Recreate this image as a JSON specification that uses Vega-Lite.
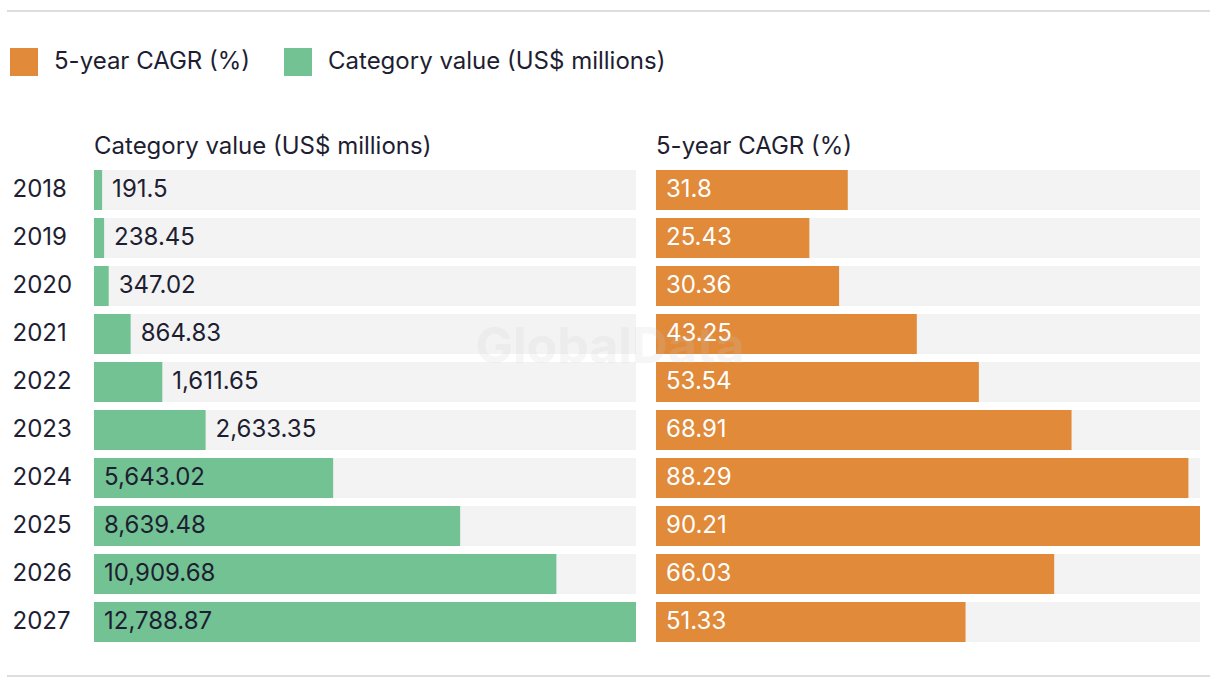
{
  "$schema": "https://vega.github.io/schema/vega-lite/v6.json",
  "padding": {"left": 6, "top": 10, "right": 5, "bottom": 5},
  "background": "white",
  "config": {
    "font": "Inter",
    "view": {"stroke": null},
    "legend": {
      "symbolType": "square",
      "symbolSize": 784,
      "symbolStrokeWidth": 0,
      "symbolOpacity": 1,
      "labelFontSize": 24,
      "labelColor": "#1e1e32",
      "labelOffset": 16,
      "columnPadding": 33,
      "padding": 0,
      "labelLimit": 500
    },
    "title": {"fontSize": 24, "fontWeight": "normal", "color": "#1e1e32", "anchor": "start", "frame": "group", "baseline": "alphabetic", "offset": 11}
  },
  "datasets": {
    "d": [
      {"year": "2018", "measure": "Category value (US$ millions)", "value": 191.5},
      {"year": "2019", "measure": "Category value (US$ millions)", "value": 238.45},
      {"year": "2020", "measure": "Category value (US$ millions)", "value": 347.02},
      {"year": "2021", "measure": "Category value (US$ millions)", "value": 864.83},
      {"year": "2022", "measure": "Category value (US$ millions)", "value": 1611.65},
      {"year": "2023", "measure": "Category value (US$ millions)", "value": 2633.35},
      {"year": "2024", "measure": "Category value (US$ millions)", "value": 5643.02},
      {"year": "2025", "measure": "Category value (US$ millions)", "value": 8639.48},
      {"year": "2026", "measure": "Category value (US$ millions)", "value": 10909.68},
      {"year": "2027", "measure": "Category value (US$ millions)", "value": 12788.87},
      {"year": "2018", "measure": "5-year CAGR (%)", "value": 31.8},
      {"year": "2019", "measure": "5-year CAGR (%)", "value": 25.43},
      {"year": "2020", "measure": "5-year CAGR (%)", "value": 30.36},
      {"year": "2021", "measure": "5-year CAGR (%)", "value": 43.25},
      {"year": "2022", "measure": "5-year CAGR (%)", "value": 53.54},
      {"year": "2023", "measure": "5-year CAGR (%)", "value": 68.91},
      {"year": "2024", "measure": "5-year CAGR (%)", "value": 88.29},
      {"year": "2025", "measure": "5-year CAGR (%)", "value": 90.21},
      {"year": "2026", "measure": "5-year CAGR (%)", "value": 66.03},
      {"year": "2027", "measure": "5-year CAGR (%)", "value": 51.33}
    ]
  },
  "vconcat": [
    {
      "data": {"values": [{}]},
      "width": 1116,
      "height": 91,
      "mark": {"type": "rule", "color": "#dddddd", "strokeWidth": 2},
      "encoding": {
        "x": {"datum": -87, "type": "quantitative", "scale": {"domain": [0, 1116], "nice": false, "zero": false}, "axis": null},
        "x2": {"datum": 1116},
        "y": {"datum": 1, "type": "quantitative", "scale": {"domain": [0, 1]}, "axis": null}
      }
    },
    {
      "spacing": 20,
      "bounds": "flush",
      "hconcat": [
        {
          "data": {"name": "d"},
          "transform": [
            {"filter": "datum.measure === 'Category value (US$ millions)'"},
            {"joinaggregate": [{"op": "max", "field": "value", "as": "maxv"}]}
          ],
          "title": "Category value (US$ millions)",
          "width": 542,
          "height": 472,
          "encoding": {
            "y": {
              "field": "year", "type": "nominal", "sort": null,
              "scale": {"paddingInner": 0.16667, "paddingOuter": 0},
              "axis": {"title": null, "domain": false, "ticks": false, "labelAlign": "left", "labelPadding": 82, "labelFontSize": 24, "labelColor": "#1e1e32"}
            }
          },
          "layer": [
            {
              "mark": {"type": "bar", "color": "#f3f3f3"},
              "encoding": {"x": {"field": "maxv", "type": "quantitative", "scale": {"domain": [0, 12788.87], "nice": false, "zero": true}, "axis": null}}
            },
            {
              "mark": {"type": "bar"},
              "encoding": {
                "x": {"field": "value", "type": "quantitative"},
                "color": {
                  "field": "measure", "type": "nominal",
                  "scale": {"domain": ["5-year CAGR (%)", "Category value (US$ millions)"], "range": ["#e08a3a", "#72c293"]},
                  "legend": {"title": null, "orient": "none", "direction": "horizontal", "legendX": -84, "legendY": 37}
                }
              }
            },
            {
              "transform": [{"filter": "datum.value < 5000"}],
              "mark": {"type": "text", "align": "left", "baseline": "middle", "dx": 10, "fontSize": 24, "color": "#1e1e32"},
              "encoding": {"x": {"field": "value", "type": "quantitative"}, "text": {"field": "value", "type": "quantitative", "format": ",~f"}}
            },
            {
              "transform": [{"filter": "datum.value >= 5000"}],
              "mark": {"type": "text", "align": "left", "baseline": "middle", "dx": 10, "fontSize": 24, "color": "#1e1e32"},
              "encoding": {"x": {"datum": 0, "type": "quantitative"}, "text": {"field": "value", "type": "quantitative", "format": ",~f"}}
            }
          ]
        },
        {
          "data": {"name": "d"},
          "transform": [
            {"filter": "datum.measure === '5-year CAGR (%)'"},
            {"joinaggregate": [{"op": "max", "field": "value", "as": "maxv"}]}
          ],
          "title": "5-year CAGR (%)",
          "width": 544,
          "height": 472,
          "encoding": {
            "y": {
              "field": "year", "type": "nominal", "sort": null,
              "scale": {"paddingInner": 0.16667, "paddingOuter": 0},
              "axis": null
            }
          },
          "layer": [
            {
              "mark": {"type": "bar", "color": "#f3f3f3"},
              "encoding": {"x": {"field": "maxv", "type": "quantitative", "scale": {"domain": [0, 90.21], "nice": false, "zero": true}, "axis": null}}
            },
            {
              "mark": {"type": "bar"},
              "encoding": {
                "x": {"field": "value", "type": "quantitative"},
                "color": {"field": "measure", "type": "nominal"}
              }
            },
            {
              "mark": {"type": "text", "align": "left", "baseline": "middle", "dx": 10, "fontSize": 24, "color": "white"},
              "encoding": {"x": {"datum": 0, "type": "quantitative"}, "text": {"field": "value", "type": "quantitative", "format": ",~f"}}
            },
            {
              "transform": [{"filter": "datum.year === '2021'"}],
              "mark": {"type": "text", "align": "center", "baseline": "middle", "dx": -46, "dy": 14, "fontSize": 50, "fontWeight": "bold", "color": "#cccccc", "opacity": 0.17},
              "encoding": {"x": {"datum": 0, "type": "quantitative"}, "text": {"value": "GlobalData"}}
            }
          ]
        }
      ]
    },
    {
      "data": {"values": [{}]},
      "width": 1116,
      "height": 1,
      "mark": {"type": "rule", "color": "#dddddd", "strokeWidth": 2},
      "encoding": {
        "x": {"datum": -87, "type": "quantitative", "scale": {"domain": [0, 1116], "nice": false, "zero": false}, "axis": null},
        "x2": {"datum": 1116},
        "y": {"datum": 1, "type": "quantitative", "scale": {"domain": [0, 1]}, "axis": null}
      }
    }
  ],
  "spacing": 33
}
